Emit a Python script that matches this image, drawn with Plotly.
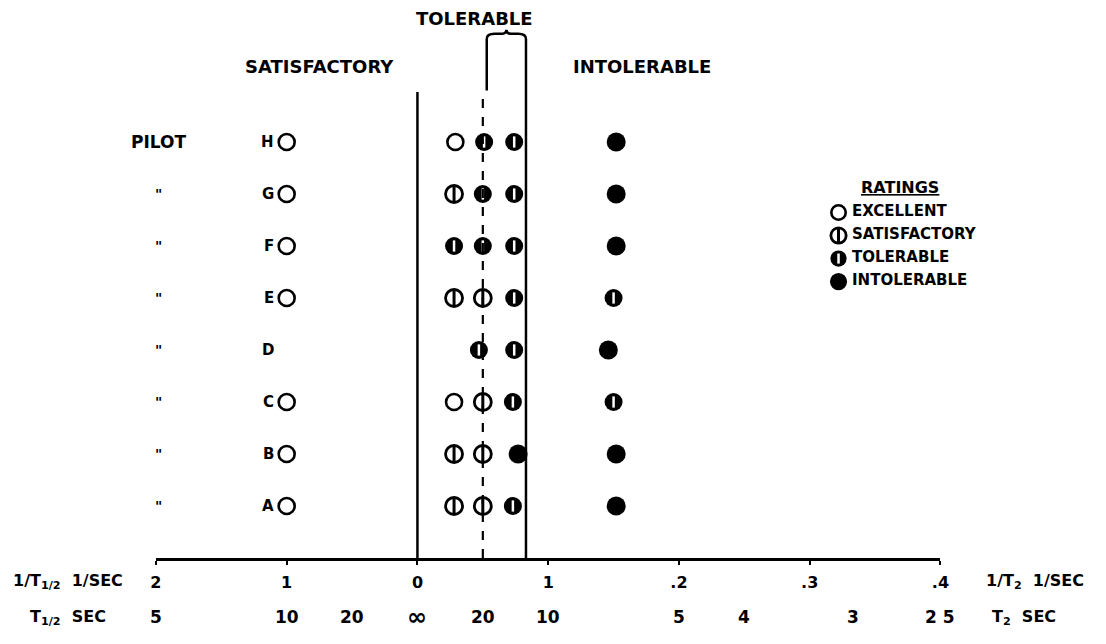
import plotly.graph_objects as go

# ---------------------------------------------------------------------------
# data
# ---------------------------------------------------------------------------
pilots = ['A', 'B', 'C', 'D', 'E', 'F', 'G', 'H']
pilot_tags = ['"', '"', '"', '"', '"', '"', '"', 'PILOT']

# left column: 1/T1/2 = .1 1/sec (T1/2 = 10 sec)
left_inv_thalf = [0.1, 0.1, 0.1, None, 0.1, 0.1, 0.1, 0.1]
left_ratings = ['E', 'E', 'E', None, 'E', 'E', 'E', 'E']

# right side: 1/T2 (1/sec) of the four test columns, one row per pilot
inv_t2 = [
    [0.028, 0.050, 0.073, 0.152],  # A
    [0.028, 0.050, 0.077, 0.152],  # B
    [0.028, 0.050, 0.073, 0.150],  # C
    [None, 0.047, 0.074, 0.146],   # D
    [0.028, 0.050, 0.074, 0.150],  # E
    [0.028, 0.050, 0.074, 0.152],  # F
    [0.028, 0.050, 0.074, 0.152],  # G
    [0.029, 0.051, 0.074, 0.152],  # H
]
# E = excellent, S = satisfactory, T = tolerable, I = intolerable
right_ratings = [
    ['S', 'S', 'T', 'I'],
    ['S', 'S', 'I', 'I'],
    ['E', 'S', 'T', 'T'],
    [None, 'T', 'T', 'I'],
    ['S', 'S', 'T', 'T'],
    ['T', 'T', 'T', 'I'],
    ['S', 'T', 'T', 'I'],
    ['E', 'T', 'T', 'I'],
]

# boundaries (1/T2, 1/sec)
sat_limit = 0.0
dashed_limit = 0.050
tol_limit = 0.083
bracket_left = 0.053

# axis ticks
inv_ticks = [-0.2, -0.1, 0.0, 0.1, 0.2, 0.3, 0.4]
inv_tick_text = ['2', '1', '0', '1', '.2', '.3', '.4']
thalf_ticks = [5, 10, 20]
thalf_tick_text = ['5', '10', '20']
t2_ticks = [20, 10, 5, 4, 3, 2.5]
t2_tick_text = ['20', '10', '5', '4', '3', '2 5']

legend_codes = ['E', 'S', 'T', 'I']
legend_names = ['EXCELLENT', 'SATISFACTORY', 'TOLERABLE', 'INTOLERABLE']

SCALE = 10  # one major division = 0.1 1/sec
FONT = 'DejaVu Sans'
INK = '#000000'
W, H = 1106, 644


# page pixel -> paper fraction (the page adds a small margin / scale)
def px_x(p):
    return ((p - 13) / 0.987) / W


def px_y(p):
    return 1 - (p - 8) / H


# ---------------------------------------------------------------------------
xs, ys, codes = [], [], []
for i, p in enumerate(pilots):
    if left_inv_thalf[i] is not None:
        xs.append(-left_inv_thalf[i] * SCALE)
        ys.append(i + 1)
        codes.append(left_ratings[i])
    for v, r in zip(inv_t2[i], right_ratings[i]):
        if v is None:
            continue
        xs.append(v * SCALE)
        ys.append(i + 1)
        codes.append(r)


def add_marks(fig, x, y, c, xa='x', ya='y', k=1.0):
    for code in ['E', 'S', 'T', 'I']:
        px_ = [a for a, kk in zip(x, c) if kk == code]
        py_ = [b for b, kk in zip(y, c) if kk == code]
        if not px_:
            continue
        common = dict(mode='markers', xaxis=xa, yaxis=ya, showlegend=False,
                      hoverinfo='skip', cliponaxis=False)
        if code == 'E':
            fig.add_trace(go.Scatter(x=px_, y=py_, marker=dict(
                symbol='circle-open', size=16 * k, color=INK, line=dict(width=2.6)), **common))
        elif code == 'S':
            fig.add_trace(go.Scatter(x=px_, y=py_, marker=dict(
                symbol='circle-open', size=17 * k, color=INK, line=dict(width=2.8)), **common))
            fig.add_trace(go.Scatter(x=px_, y=py_, marker=dict(
                symbol='line-ns-open', size=13 * k, color=INK, line=dict(width=3)), **common))
        elif code == 'T':
            fig.add_trace(go.Scatter(x=px_, y=py_, marker=dict(
                symbol='circle', size=18 * k, color=INK, line=dict(width=0)), **common))
            fig.add_trace(go.Scatter(x=px_, y=py_, marker=dict(
                symbol='line-ns-open', size=8 * k, color='white', line=dict(width=2.5)), **common))
        else:
            fig.add_trace(go.Scatter(x=px_, y=py_, marker=dict(
                symbol='circle', size=19 * k, color=INK, line=dict(width=0)), **common))


fig = go.Figure()
add_marks(fig, xs, ys, codes)

# region boundaries
fig.add_shape(type='line', x0=sat_limit * SCALE, x1=sat_limit * SCALE, y0=0, y1=8.96,
              line=dict(color=INK, width=2.5))
fig.add_shape(type='line', x0=dashed_limit * SCALE, x1=dashed_limit * SCALE, y0=0, y1=8.9,
              line=dict(color=INK, width=2.2, dash='dash'))
bl, tr = bracket_left * SCALE, tol_limit * SCALE
mid = (bl + tr) / 2
fig.add_shape(
    type='path',
    path=(f'M {bl},8.99 L {bl},9.98 Q {bl},10.08 {bl + 0.06},10.08 '
          f'L {mid - 0.04},10.08 Q {mid},10.08 {mid},10.16 '
          f'Q {mid},10.08 {mid + 0.04},10.08 L {tr - 0.06},10.08 '
          f'Q {tr},10.08 {tr},9.98 L {tr},0'),
    line=dict(color=INK, width=2.5))

# region names
region_font = dict(family=FONT, size=18, color=INK, weight='bold')
fig.add_annotation(x=0.44, y=10.38, text='TOLERABLE', showarrow=False, font=region_font)
fig.add_annotation(x=-0.75, y=9.45, text='SATISFACTORY', showarrow=False, font=region_font)
fig.add_annotation(x=1.72, y=9.45, text='INTOLERABLE', showarrow=False, font=region_font)

# pilot labels
label_font = dict(family=FONT, size=17, color=INK, weight='bold')
for i, p in enumerate(pilots):
    fig.add_annotation(x=-1, y=i + 1, text=p, showarrow=False, xanchor='right',
                       xshift=-11, font=dict(family=FONT, size=15, color=INK, weight='bold'))
    fig.add_annotation(x=-1.98, y=i + 1, text=pilot_tags[i], showarrow=False,
                       font=dict(family=FONT, size=17 if pilot_tags[i] == 'PILOT' else 14,
                                 color=INK, weight='bold'))

# second scale (T1/2 and T2 in seconds)
row2_y = px_y(617)
for t, lab in zip(thalf_ticks, thalf_tick_text):
    fig.add_annotation(x=-SCALE / t, y=row2_y, yref='paper', yanchor='middle', text=lab,
                       showarrow=False, font=label_font)
fig.add_annotation(x=0, y=row2_y, yref='paper', yanchor='middle', text='∞', showarrow=False,
                   font=dict(family=FONT, size=24, color=INK, weight='bold'))
for t, lab in zip(t2_ticks, t2_tick_text):
    fig.add_annotation(x=SCALE / t, y=row2_y, yref='paper', yanchor='middle', text=lab,
                       showarrow=False, font=label_font)

side_font = dict(family=FONT, size=16, color=INK, weight='bold')
row1_y = px_y(581)
fig.add_annotation(x=px_x(124), y=row1_y, xref='paper', yref='paper', xanchor='right',
                   yanchor='middle', text='1/T<sub>1/2</sub>  1/SEC', showarrow=False,
                   font=side_font)
fig.add_annotation(x=px_x(984), y=row1_y, xref='paper', yref='paper', xanchor='left',
                   yanchor='middle', text='1/T<sub>2</sub>  1/SEC', showarrow=False,
                   font=side_font)
fig.add_annotation(x=px_x(107), y=row2_y, xref='paper', yref='paper', xanchor='right',
                   yanchor='middle', text='T<sub>1/2</sub>  SEC', showarrow=False,
                   font=side_font)
fig.add_annotation(x=px_x(990), y=row2_y, xref='paper', yref='paper', xanchor='left',
                   yanchor='middle', text='T<sub>2</sub>  SEC', showarrow=False,
                   font=side_font)

# ratings key
key_y = list(range(len(legend_codes)))
add_marks(fig, [0.5] * len(key_y), key_y, legend_codes, xa='x2', ya='y2', k=0.9)
fig.add_trace(go.Scatter(
    x=[0.5] * len(key_y), y=key_y, mode='markers+text', text=legend_names,
    textposition='middle right', xaxis='x2', yaxis='y2', showlegend=False,
    hoverinfo='skip', cliponaxis=False,
    marker=dict(size=20, opacity=0),
    textfont=dict(family=FONT, size=15, color=INK, weight='bold')))
fig.add_annotation(x=px_x(900), y=px_y(187), xref='paper', yref='paper',
                   xanchor='center', yanchor='middle',
                   text='<u>RATINGS</u>', showarrow=False,
                   font=dict(family=FONT, size=16, color=INK, weight='bold'))

fig.update_layout(
    width=W, height=H,
    margin=dict(l=0, r=0, t=0, b=0),
    paper_bgcolor='white', plot_bgcolor='white',
    xaxis=dict(domain=[px_x(155), px_x(940)], range=[-2, 4],
               tickvals=[v * SCALE for v in inv_ticks], ticktext=inv_tick_text,
               showline=True, linecolor=INK, linewidth=3, ticks='outside',
               ticklen=4, tickwidth=2, tickcolor=INK, showgrid=False, zeroline=False,
               tickfont=dict(family=FONT, size=16, color=INK, weight='bold'),
               ticklabelstandoff=4, fixedrange=True),
    yaxis=dict(domain=[px_y(558), 1], range=[0, (558 - 8) / 52], visible=False,
               fixedrange=True),
    xaxis2=dict(domain=[px_x(826), px_x(850)], range=[0, 1], visible=False, anchor='y2',
                fixedrange=True),
    yaxis2=dict(domain=[px_y(300), px_y(195)], range=[3.8, -0.76],
                visible=False, anchor='x2', fixedrange=True),
)

fig.write_html('out.html')
